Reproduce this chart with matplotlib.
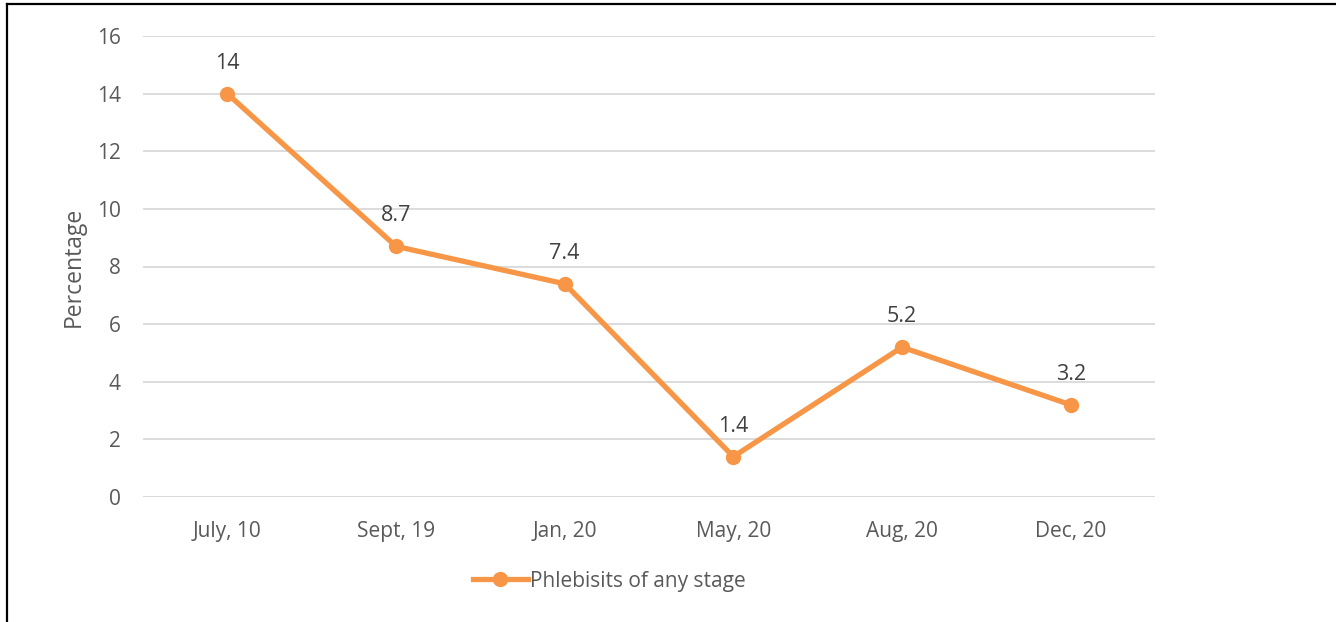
import matplotlib
matplotlib.use('Agg')
import matplotlib.pyplot as plt
from matplotlib.lines import Line2D

months = ['July, 10', 'Sept, 19', 'Jan, 20', 'May, 20', 'Aug, 20', 'Dec, 20']
phleb = [14, 8.7, 7.4, 1.4, 5.2, 3.2]
yticks = [0, 2, 4, 6, 8, 10, 12, 14, 16]

plt.rcParams['font.family'] = ['Open Sans', 'DejaVu Sans']
txt = '#595959'
orange = '#F79646'

fig = plt.figure(figsize=(13.36, 6.22), dpi=100)
ax = fig.add_axes([143/1336, 125/622, 1012/1336, 461/622])

x = list(range(len(months)))
ax.plot(x, phleb, color=orange, lw=3.8, marker='o', ms=10, label='Phlebisits of any stage', zorder=3)
for xi, v in zip(x, phleb):
    ax.annotate(('%g' % v), (xi, v), xytext=(0, 22), textcoords='offset points',
                ha='center', va='center', fontsize=15.5, color='#404040')

ax.set_xlim(-0.5, 5.5)
ax.set_ylim(0, 16)
ax.set_yticks(yticks)
ax.set_xticks(x)
ax.set_xticklabels(months)
ax.grid(axis='y', color='#d9d9d9', lw=1.3)
ax.set_axisbelow(True)
for s in ax.spines.values():
    s.set_visible(False)
ax.axhline(0, color='#d9d9d9', lw=1.3, zorder=1)
ax.tick_params(length=0, labelsize=15, labelcolor=txt)
ax.tick_params(axis='y', pad=16)
ax.tick_params(axis='x', pad=17)
ax.set_ylabel('Percentage', fontsize=16.5, color=txt, labelpad=8)

fig.legend(loc='center left', bbox_to_anchor=(465/1336, 1 - 581/622), frameon=False,
           fontsize=15, labelcolor=txt, handlelength=2.6, handletextpad=0.1, borderaxespad=0)

# border of the picture
fig.add_artist(Line2D([7/1336, 1], [1 - 4/622, 1 - 4/622], transform=fig.transFigure, color='black', lw=1.6))
fig.add_artist(Line2D([7/1336, 7/1336], [0, 1 - 4/622], transform=fig.transFigure, color='black', lw=1.6))

fig.savefig('out.png', dpi=100)
